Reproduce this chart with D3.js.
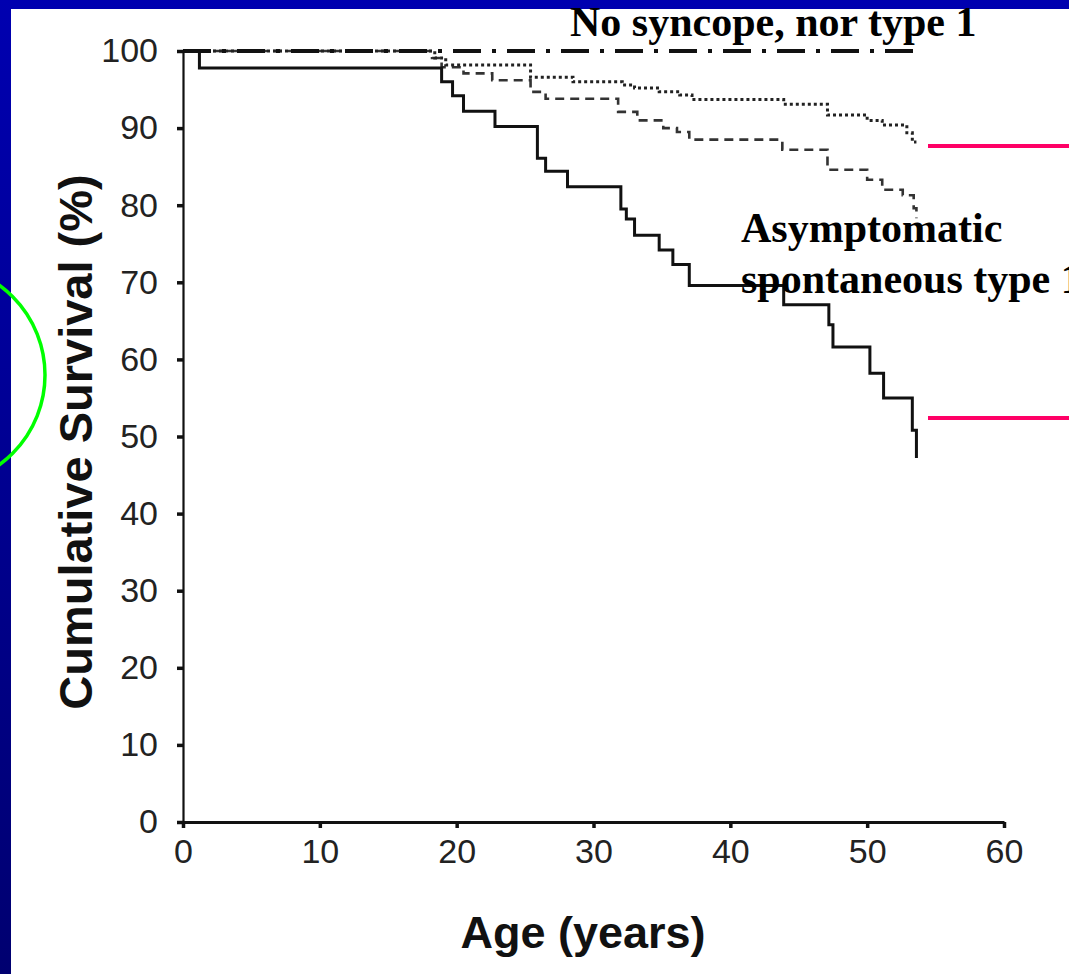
<!DOCTYPE html>
<html>
<head>
<meta charset="utf-8">
<script src="https://cdn.jsdelivr.net/npm/d3@7"></script>
<style>
  html, body { margin: 0; padding: 0; background: #fff; }
  svg { display: block; }
</style>
</head>
<body>
<div id="chart"></div>
<script>
// Kaplan-Meier steps: [age, survival %]
const solidSteps = [[0, 100], [1.2, 97.8], [18.9, 96.0], [19.7, 94.2], [20.5, 92.2], [22.8, 90.2],
  [25.9, 86.1], [26.5, 84.4], [28.1, 82.4], [32.0, 79.5], [32.4, 78.2], [33.0, 76.1],
  [34.8, 74.2], [35.8, 72.3], [37.0, 69.6], [43.9, 67.1], [47.2, 64.5], [47.5, 61.6],
  [50.2, 58.2], [51.2, 55.0], [53.3, 50.8], [53.6, 47.2]];
const dashedSteps = [[0, 100], [18.2, 99.1], [18.9, 97.9], [20.5, 97.1], [22.6, 96.2], [25.4, 94.7],
  [26.5, 93.8], [31.8, 92.1], [33.2, 91.0], [35.1, 90.0], [36.1, 89.5], [37.0, 88.5],
  [43.8, 87.2], [47.1, 84.6], [50.0, 83.3], [51.1, 82.0], [52.6, 81.3], [53.4, 79.6], [53.6, 78.3]];
const dottedSteps = [[0, 100], [18.4, 99.1], [19.2, 98.2], [25.4, 96.6], [28.5, 96.0], [32.1, 95.6],
  [33.0, 95.2], [34.8, 94.7], [36.3, 94.3], [37.2, 93.7], [43.9, 93.1], [47.1, 91.7],
  [50.0, 91.0], [51.1, 90.4], [52.9, 89.4], [53.3, 88.2], [53.6, 88.2]];
const dashDotSteps = [[0, 100], [53.7, 100]];

const xTicks = [0, 10, 20, 30, 40, 50, 60];
const yTicks = [0, 10, 20, 30, 40, 50, 60, 70, 80, 90, 100];
const labelTop = "No syncope, nor type 1";
const labelMid = ["Asymptomatic", "spontaneous type 1"];
const xTitle = "Age (years)";
const yTitle = "Cumulative Survival (%)";

const W = 1069, H = 974;

const svg = d3.select("#chart").append("svg")
    .attr("width", W)
    .attr("height", H);

// blue slide frame
const grad = svg.append("defs").append("linearGradient")
    .attr("id", "frame").attr("x1", 0).attr("y1", 0).attr("x2", 0).attr("y2", 1);
grad.append("stop").attr("offset", "0%").attr("stop-color", "#0000b0");
grad.append("stop").attr("offset", "100%").attr("stop-color", "#000070");
svg.append("rect").attr("width", W).attr("height", H).attr("fill", "url(#frame)");
svg.append("rect").attr("x", 11).attr("y", 9).attr("width", W - 11).attr("height", H - 9).attr("fill", "#fff");

const x = d3.scaleLinear().domain([0, 60]).range([183, 1004]);
const y = d3.scaleLinear().domain([0, 100]).range([822, 51]);

// axes
const yAxis = svg.append("g")
    .attr("transform", `translate(${x(0)},0)`)
    .call(d3.axisLeft(y).tickValues(yTicks).tickSize(6).tickSizeOuter(0).tickPadding(19));
const xAxis = svg.append("g")
    .attr("transform", `translate(0,${y(0)})`)
    .call(d3.axisBottom(x).tickValues(xTicks).tickSize(6).tickSizeOuter(0).tickPadding(11));

yAxis.select(".domain").attr("stroke", "#111").attr("stroke-width", 2.2);
xAxis.select(".domain").attr("stroke", "#111").attr("stroke-width", 3);
svg.selectAll(".tick line").attr("stroke", "#111").attr("stroke-width", 3.5);
svg.selectAll(".tick text")
    .attr("font-family", "'Liberation Sans', Arial, sans-serif")
    .attr("font-size", 34)
    .attr("fill", "#222");

// survival curves
const step = d3.line()
    .x(d => x(d[0]))
    .y(d => y(d[1]))
    .curve(d3.curveStepAfter);

const curves = [
  { data: dashedSteps, width: 2.6, dash: "9,6", color: "#333" },
  { data: dottedSteps, width: 3, dash: "3,3", color: "#222" },
  { data: solidSteps, width: 3, dash: null, color: "#111" },
  { data: dashDotSteps, width: 4, dash: "28,11,4,11", color: "#111" }
];

svg.append("g")
    .selectAll("path")
    .data(curves)
    .join("path")
    .attr("d", d => step(d.data))
    .attr("fill", "none")
    .attr("stroke", d => d.color)
    .attr("stroke-width", d => d.width)
    .attr("stroke-dasharray", d => d.dash);

// axis titles
svg.append("text")
    .attr("x", 583).attr("y", 948)
    .attr("text-anchor", "middle")
    .attr("font-family", "'Liberation Sans', Arial, sans-serif")
    .attr("font-weight", "bold")
    .attr("font-size", 45)
    .attr("fill", "#111")
    .text(xTitle);

svg.append("text")
    .attr("transform", "translate(92,442) rotate(-90)")
    .attr("text-anchor", "middle")
    .attr("font-family", "'Liberation Sans', Arial, sans-serif")
    .attr("font-weight", "bold")
    .attr("font-size", 47)
    .attr("fill", "#111")
    .text(yTitle);

// slide annotations
const serif = "'Liberation Serif', 'Times New Roman', serif";
svg.append("text")
    .attr("x", 570).attr("y", 36)
    .attr("font-family", serif).attr("font-weight", "bold")
    .attr("font-size", 42)
    .attr("fill", "#000")
    .text(labelTop);

svg.append("g")
    .selectAll("text")
    .data(labelMid)
    .join("text")
    .attr("x", 741)
    .attr("y", (d, i) => 242 + i * 51)
    .attr("font-family", serif).attr("font-weight", "bold")
    .attr("font-size", 42)
    .attr("fill", "#000")
    .text(d => d);

// pink pointer lines
svg.append("g")
    .selectAll("line")
    .data([146, 418])
    .join("line")
    .attr("x1", 928).attr("x2", W)
    .attr("y1", d => d).attr("y2", d => d)
    .attr("stroke", "#ff0066")
    .attr("stroke-width", 4);

// green circle highlight at the left edge
svg.append("circle")
    .attr("cx", -66).attr("cy", 375).attr("r", 111)
    .attr("fill", "none")
    .attr("stroke", "#00ff00")
    .attr("stroke-width", 3.5);
</script>
</body>
</html>
